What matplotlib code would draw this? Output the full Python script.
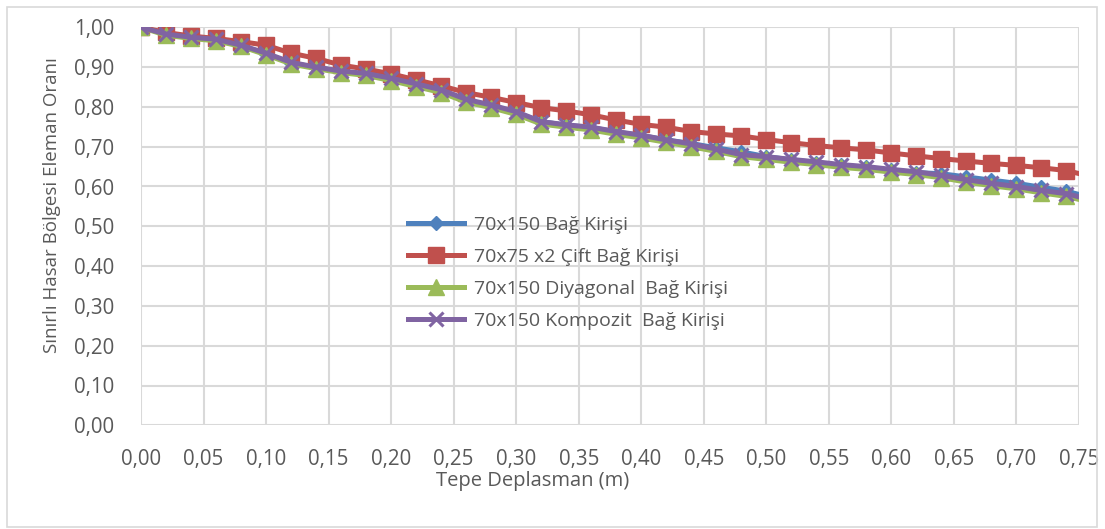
import matplotlib
matplotlib.use("Agg")
import matplotlib.pyplot as plt
from matplotlib.ticker import FuncFormatter, MultipleLocator
from matplotlib.patches import Rectangle
import numpy as np

# Data
x_disp = [0.00, 0.02, 0.04, 0.06, 0.08, 0.10, 0.12, 0.14, 0.16, 0.18,
          0.20, 0.22, 0.24, 0.26, 0.28, 0.30, 0.32, 0.34, 0.36, 0.38,
          0.40, 0.42, 0.44, 0.46, 0.48, 0.50, 0.52, 0.54, 0.56, 0.58,
          0.60, 0.62, 0.64, 0.66, 0.68, 0.70, 0.72, 0.74, 0.76]

bag = [1.000, 0.984, 0.975, 0.969, 0.954, 0.933, 0.910, 0.899, 0.889, 0.882,
       0.870, 0.855, 0.841, 0.817, 0.803, 0.785, 0.763, 0.754, 0.748, 0.737,
       0.728, 0.717, 0.708, 0.697, 0.687, 0.675, 0.667, 0.660, 0.653, 0.648,
       0.641, 0.635, 0.632, 0.624, 0.616, 0.608, 0.598, 0.588, 0.572]

cift = [1.000, 0.987, 0.978, 0.972, 0.964, 0.955, 0.935, 0.922, 0.905, 0.895,
        0.883, 0.868, 0.853, 0.836, 0.824, 0.811, 0.798, 0.790, 0.780, 0.767,
        0.756, 0.749, 0.738, 0.732, 0.727, 0.718, 0.710, 0.703, 0.697, 0.692,
        0.684, 0.677, 0.670, 0.664, 0.658, 0.653, 0.647, 0.640, 0.625]

diyagonal = [1.000, 0.980, 0.972, 0.966, 0.952, 0.931, 0.908, 0.896, 0.886, 0.879,
             0.866, 0.851, 0.836, 0.812, 0.798, 0.781, 0.757, 0.749, 0.742, 0.731,
             0.722, 0.711, 0.700, 0.688, 0.675, 0.668, 0.661, 0.655, 0.648, 0.643,
             0.636, 0.630, 0.622, 0.611, 0.602, 0.594, 0.584, 0.575, 0.560]

kompozit = [1.000, 0.983, 0.975, 0.970, 0.955, 0.935, 0.912, 0.900, 0.890, 0.884,
            0.872, 0.858, 0.843, 0.819, 0.805, 0.788, 0.763, 0.755, 0.749, 0.738,
            0.729, 0.717, 0.707, 0.694, 0.680, 0.675, 0.668, 0.662, 0.655, 0.650,
            0.643, 0.637, 0.628, 0.617, 0.608, 0.600, 0.590, 0.582, 0.566]

labels = ["70x150 Bağ Kirişi", "70x75 x2 Çift Bağ Kirişi",
          "70x150 Diyagonal  Bağ Kirişi", "70x150 Kompozit  Bağ Kirişi"]
x_title = "Tepe Deplasman (m)"
y_title = "Sınırlı Hasar Bölgesi Eleman Oranı"

plt.rcParams['font.family'] = ['Open Sans', 'DejaVu Sans']

W, H = 1105, 529
fig = plt.figure(figsize=(W / 100, H / 100), dpi=100)
left, right = 141 / W, 1079 / W
bottom, top = 1 - 425.3 / H, 1 - 27.3 / H
ax = fig.add_axes([left, bottom, right - left, top - bottom])

# outer chart border
fig.patches.append(Rectangle((7 / W, 2 / H), (1097 - 7) / W, (522 - 2) / H,
                             transform=fig.transFigure, fill=False,
                             edgecolor='#D9D9D9', linewidth=1.2))

gray = '#595959'
fs = 14
lw = 3.6
ax.plot(x_disp, bag, color='#4F81BD', lw=lw, marker='D', markersize=7,
        label=labels[0], zorder=3, solid_joinstyle='round')
ax.plot(x_disp, cift, color='#C0504D', lw=lw, marker='s', markersize=12,
        label=labels[1], zorder=4, solid_joinstyle='round')
ax.plot(x_disp, diyagonal, color='#9BBB59', lw=lw, marker='^', markersize=12,
        label=labels[2], zorder=5, solid_joinstyle='round')
ax.plot(x_disp, kompozit, color='#8064A2', lw=lw, marker='x', markersize=10,
        markeredgewidth=2.2, label=labels[3], zorder=6, solid_joinstyle='round')

ax.set_xlim(0, 0.75)
ax.set_ylim(0, 1.0)
ax.xaxis.set_major_locator(MultipleLocator(0.05))
ax.yaxis.set_major_locator(MultipleLocator(0.10))
fmt = FuncFormatter(lambda v, p: f"{v:.2f}".replace('.', ','))
ax.xaxis.set_major_formatter(fmt)
ax.yaxis.set_major_formatter(fmt)

ax.grid(True, color='#D9D9D9', linewidth=1.5, zorder=0)
ax.set_axisbelow(True)
for s in ax.spines.values():
    s.set_visible(False)
ax.tick_params(axis='both', length=0, labelsize=14.8, colors=gray)
ax.tick_params(axis='x', pad=17)
ax.tick_params(axis='y', pad=19)

fig.text(532.5 / W, 1 - 481 / H, x_title, fontsize=14.5, color=gray,
         ha='center', va='center')
fig.text(52 / W, 1 - 205 / H, y_title, fontsize=13.5, color=gray,
         ha='center', va='center', rotation=90)

leg = ax.legend(loc='center left', bbox_to_anchor=(408 / W, 1 - 273 / H),
                bbox_transform=fig.transFigure, frameon=False,
                fontsize=fs, handlelength=2.9, handletextpad=0.5,
                labelspacing=0.72, borderaxespad=0, borderpad=0)
for t in leg.get_texts():
    t.set_color(gray)

fig.savefig("out.png", dpi=100)
